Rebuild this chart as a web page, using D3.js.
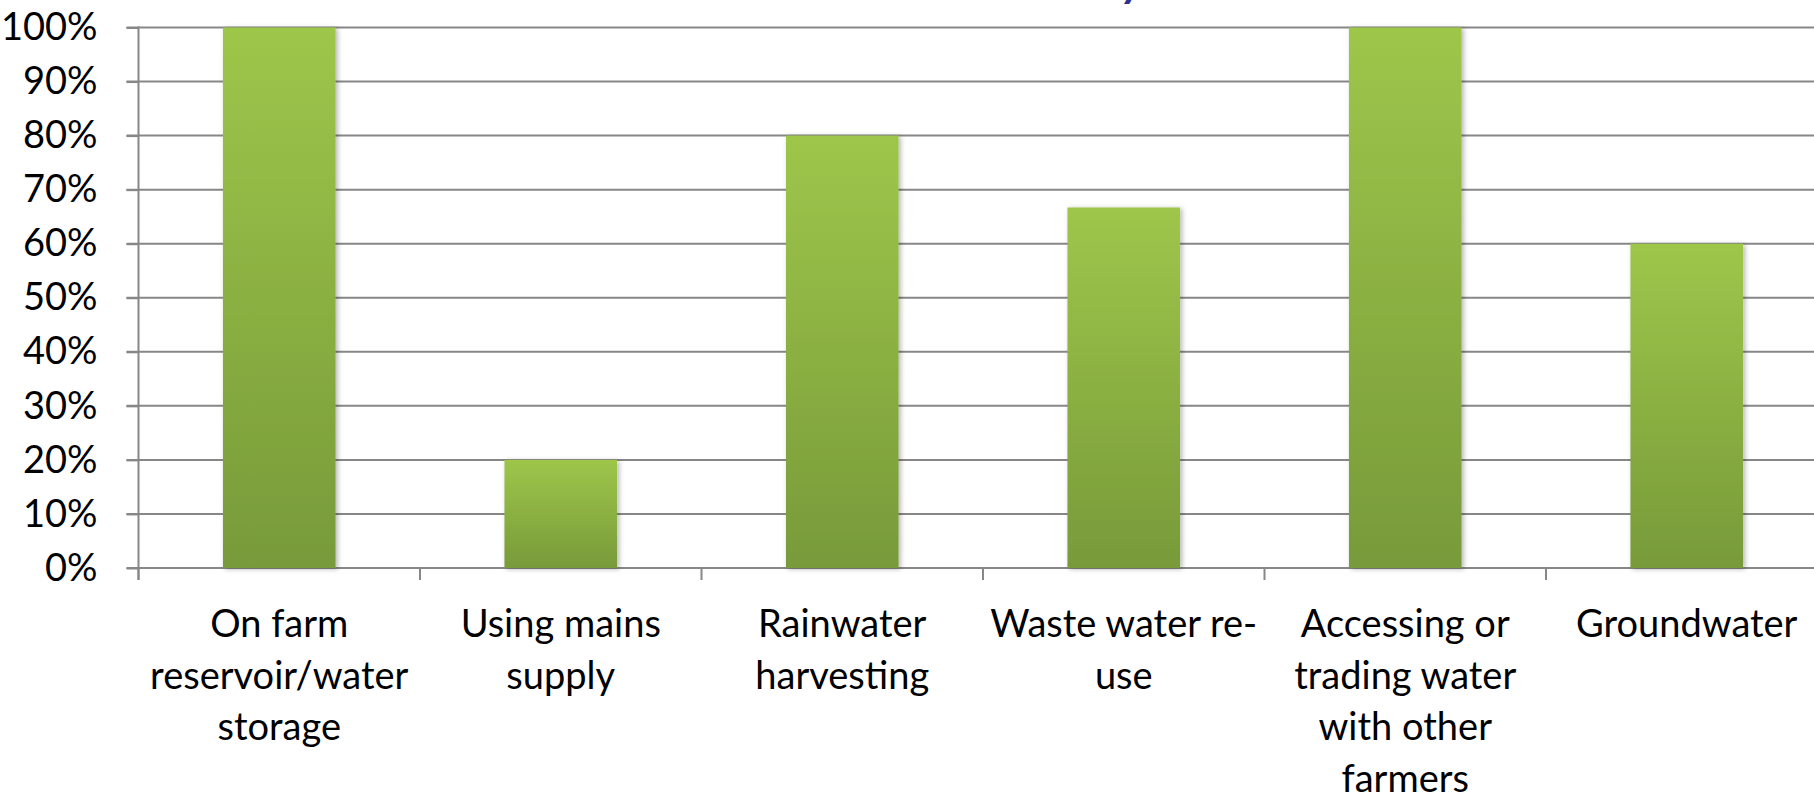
<!DOCTYPE html>
<html>
<head>
<meta charset="utf-8">
<script src="https://cdn.jsdelivr.net/npm/d3@7"></script>
<style>
	html, body { margin: 0; padding: 0; background: #fff; overflow: hidden; }
	svg { display: block; font-family: Lato, "Open Sans", sans-serif; }
</style>
</head>
<body>
<svg width="1814" height="793"></svg>
<script>
var categories = ["On farm reservoir/water storage", "Using mains supply", "Rainwater harvesting",
	"Waste water re-use", "Accessing or trading water with other farmers", "Groundwater"];
var labelLines = [
	["On farm", "reservoir/water", "storage"],
	["Using mains", "supply"],
	["Rainwater", "harvesting"],
	["Waste water re-", "use"],
	["Accessing or", "trading water", "with other", "farmers"],
	["Groundwater"]
];
var values = [100, 20, 80, 66.7, 100, 60];
var yTicks = [0, 10, 20, 30, 40, 50, 60, 70, 80, 90, 100];

var svg = d3.select("svg"),
	width = +svg.attr("width"),
	height = +svg.attr("height"),
	plotLeft = 138.5,
	step = 281.5,
	plotTop = 27.5,
	plotBottom = 568,
	fontSize = 38;

var x = d3.scaleBand()
	.domain(categories)
	.range([plotLeft, plotLeft + step * categories.length])
	.padding(0);

var y = d3.scaleLinear()
	.domain([0, 100])
	.range([plotBottom, plotTop]);

var defs = svg.append("defs");
var grad = defs.append("linearGradient")
	.attr("id", "barGrad")
	.attr("x1", 0).attr("y1", 0).attr("x2", 0).attr("y2", 1);
grad.append("stop").attr("offset", "0%").attr("stop-color", "#9ec64a");
grad.append("stop").attr("offset", "100%").attr("stop-color", "#789a3a");

var shadow = defs.append("filter")
	.attr("id", "shadow")
	.attr("x", "-20%").attr("y", "-5%").attr("width", "140%").attr("height", "110%");
shadow.append("feDropShadow")
	.attr("dx", 2).attr("dy", 1)
	.attr("stdDeviation", 2.5)
	.attr("flood-color", "#000")
	.attr("flood-opacity", 0.3);

// title sits above the crop, only the tail of its "y" shows
svg.append("text")
	.attr("x", 1122)
	.attr("y", -3)
	.attr("font-size", 44)
	.attr("font-weight", "bold")
	.attr("font-style", "italic")
	.attr("fill", "#2e3192")
	.text("y");

// gridlines
svg.append("g")
	.selectAll("line")
	.data(yTicks)
	.enter().append("line")
	.attr("x1", plotLeft - 12)
	.attr("x2", width)
	.attr("y1", function (d) { return y(d); })
	.attr("y2", function (d) { return y(d); })
	.attr("stroke", "#878787")
	.attr("stroke-width", 2);

// y axis
var yAxis = svg.append("g")
	.attr("transform", "translate(" + plotLeft + ",0)")
	.call(d3.axisLeft(y)
		.tickValues(yTicks)
		.tickSize(12)
		.tickPadding(29)
		.tickFormat(function (d) { return d + "%"; }));
yAxis.select(".domain").remove();
yAxis.selectAll(".tick line").attr("stroke", "#878787").attr("stroke-width", 2);
yAxis.selectAll(".tick text")
	.attr("font-family", "Lato, sans-serif")
	.attr("font-size", fontSize)
	.attr("fill", "#000");
yAxis.append("line")
	.attr("x1", 0).attr("x2", 0)
	.attr("y1", plotTop - 1).attr("y2", plotBottom + 12)
	.attr("stroke", "#878787")
	.attr("stroke-width", 2);

// category ticks
svg.append("g")
	.selectAll("line")
	.data(d3.range(categories.length + 1))
	.enter().append("line")
	.attr("x1", function (i) { return plotLeft + i * x.step(); })
	.attr("x2", function (i) { return plotLeft + i * x.step(); })
	.attr("y1", plotBottom)
	.attr("y2", plotBottom + 12)
	.attr("stroke", "#878787")
	.attr("stroke-width", 2);

// bars
var bw = x.bandwidth() * 0.4;
svg.append("g")
	.selectAll("rect")
	.data(values)
	.enter().append("rect")
	.attr("x", function (d, i) { return x(categories[i]) + (x.bandwidth() - bw) / 2; })
	.attr("y", function (d) { return y(d); })
	.attr("width", bw)
	.attr("height", function (d) { return plotBottom - y(d); })
	.attr("fill", "url(#barGrad)")
	.attr("filter", "url(#shadow)");

// category labels
var labels = svg.append("g")
	.selectAll("text")
	.data(categories)
	.enter().append("text")
	.attr("x", function (d) { return x(d) + x.bandwidth() / 2; })
	.attr("y", 637)
	.attr("text-anchor", "middle")
	.attr("font-size", fontSize)
	.attr("fill", "#000");
labels.each(function (d, i) {
	var t = d3.select(this);
	labelLines[i].forEach(function (line, k) {
		t.append("tspan")
			.attr("x", x(d) + x.bandwidth() / 2)
			.attr("y", 637 + k * 51.7)
			.text(line);
	});
});
</script>
</body>
</html>
